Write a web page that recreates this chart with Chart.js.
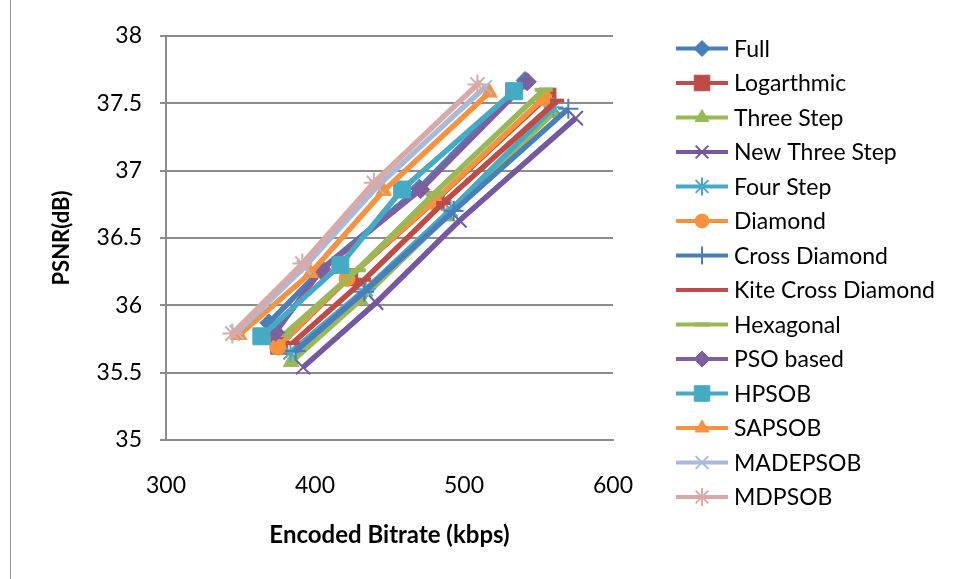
<!DOCTYPE html>
<html>
<head>
<meta charset="utf-8">
<script src="https://cdn.jsdelivr.net/npm/chart.js@4/dist/chart.umd.min.js"></script>
<style>
  html, body { margin: 0; padding: 0; background: #ffffff; }
  #wrap { position: relative; width: 958px; height: 579px; overflow: hidden; }
  #frame { position: absolute; left: 10px; top: -2px; width: 960px; height: 590px; border-left: 1px solid #9a9a9a; box-sizing: border-box; }
  canvas { position: absolute; left: 0; top: 0; }
</style>
</head>
<body>
<div id="wrap">
  <div id="frame"></div>
  <canvas id="c" width="958" height="579"></canvas>
</div>
<script>
// Rate-distortion results: encoded bitrate (kbps) vs PSNR (dB) per search method
const seriesNames = ['Full', 'Logarthmic', 'Three Step', 'New Three Step', 'Four Step', 'Diamond',
  'Cross Diamond', 'Kite Cross Diamond', 'Hexagonal', 'PSO based', 'HPSOB', 'SAPSOB', 'MADEPSOB', 'MDPSOB'];

const rateFull = [369, 404.5, 470, 541];
const psnrFull = [35.87, 36.27, 36.87, 37.67];
const rateLog = [376, 423, 481, 556];
const psnrLog = [35.70, 36.21, 36.78, 37.55];
const rateThree = [384, 430.5, 488.5, 560];
const psnrThree = [35.58, 36.04, 36.66, 37.43];
const rateNewThree = [392, 441, 497, 575];
const psnrNewThree = [35.54, 36.02, 36.63, 37.39];
const rateFour = [383.5, 434, 491, 560];
const psnrFour = [35.65, 36.12, 36.71, 37.47];
const rateDiamond = [375, 421.5, 479.5, 553.5];
const psnrDiamond = [35.69, 36.20, 36.77, 37.54];
const rateCross = [387, 433, 493, 570];
const psnrCross = [35.66, 36.10, 36.70, 37.46];
const rateKite = [385, 433, 486, 562.5];
const psnrKite = [35.72, 36.19, 36.76, 37.52];
const rateHex = [379, 428, 480, 553.5];
const psnrHex = [35.78, 36.26, 36.83, 37.60];
const ratePso = [373.5, 404, 471, 542.5];
const psnrPso = [35.80, 36.26, 36.86, 37.66];
const rateHpsob = [364, 417, 458.5, 533.5];
const psnrHpsob = [35.77, 36.30, 36.86, 37.59];
const rateSapsob = [349, 397, 446, 517];
const psnrSapsob = [35.78, 36.24, 36.85, 37.58];
const rateMadepsob = [347.5, 392.5, 441.5, 514];
const psnrMadepsob = [35.80, 36.28, 36.88, 37.62];
const rateMdpsob = [344.5, 391.5, 439.5, 509];
const psnrMdpsob = [35.79, 36.31, 36.91, 37.64];

const xTicks = [300, 400, 500, 600];
const yTicks = [35, 35.5, 36, 36.5, 37, 37.5, 38];

const rates = [rateFull, rateLog, rateThree, rateNewThree, rateFour, rateDiamond, rateCross,
  rateKite, rateHex, ratePso, rateHpsob, rateSapsob, rateMadepsob, rateMdpsob];
const psnrs = [psnrFull, psnrLog, psnrThree, psnrNewThree, psnrFour, psnrDiamond, psnrCross,
  psnrKite, psnrHex, psnrPso, psnrHpsob, psnrSapsob, psnrMadepsob, psnrMdpsob];

// line colour, marker shape, marker radius, marker outline width
const styles = [
  ['#4A7EBB', 'rectRot', 9, 1],
  ['#BE4B48', 'rect', 12, 1],
  ['#98B954', 'triangle', 9, 1],
  ['#7558A0', 'crossRot', 10, 2],
  ['#46AAC5', 'star', 10, 2],
  ['#F69240', 'circle', 8, 1],
  ['#4A7EBB', 'cross', 10, 2],
  ['#BE4B48', 'line', 7, 4],
  ['#98B954', 'line', 9, 4],
  ['#7D60A0', 'rectRot', 9, 1],
  ['#46AAC5', 'rect', 12, 1],
  ['#F69240', 'triangle', 9, 1],
  ['#A9BAD8', 'crossRot', 10, 2],
  ['#D9A9A8', 'star', 10, 2]
];

const FONT = 'Lato, "Liberation Sans", sans-serif';

const datasets = seriesNames.map((name, i) => {
  const [color, shape, r, bw] = styles[i];
  return {
    label: name,
    data: rates[i].map((x, k) => ({ x: x, y: psnrs[i][k] })),
    showLine: true,
    borderColor: color,
    backgroundColor: color,
    borderWidth: 5.5,
    pointStyle: shape,
    pointRadius: r,
    pointHoverRadius: r,
    pointBackgroundColor: color,
    pointBorderColor: color,
    pointBorderWidth: bw,
    order: seriesNames.length - 1 - i
  };
});

// Legend on the right: short line with the series marker, then the name
const sideLegend = {
  id: 'sideLegend',
  afterDraw(chart) {
    const ctx = chart.ctx;
    const x0 = 676, x1 = 728, xm = 702, xt = 734, y0 = 48.5, step = 34.5;
    ctx.save();
    chart.data.datasets.forEach((ds, i) => {
      const y = y0 + i * step;
      ctx.strokeStyle = ds.borderColor;
      ctx.lineWidth = 4;
      ctx.beginPath();
      ctx.moveTo(x0, y);
      ctx.lineTo(x1, y);
      ctx.stroke();
      if (Chart.helpers && Chart.helpers.drawPoint) {
        ctx.fillStyle = ds.pointBackgroundColor;
        ctx.strokeStyle = ds.pointBorderColor;
        ctx.lineWidth = ds.pointBorderWidth;
        Chart.helpers.drawPoint(ctx, {
          pointStyle: ds.pointStyle,
          radius: ds.pointRadius - 1,
          borderWidth: ds.pointBorderWidth,
          rotation: 0
        }, xm, y);
      }
      ctx.fillStyle = '#000000';
      ctx.font = '23px ' + FONT;
      ctx.textBaseline = 'middle';
      ctx.textAlign = 'left';
      ctx.fillText(ds.label, xt, y + 1);
    });
    ctx.restore();
  }
};

new Chart(document.getElementById('c'), {
  type: 'scatter',
  data: { datasets: datasets },
  options: {
    responsive: false,
    animation: false,
    events: [],
    layout: { padding: { left: 0, top: 36, right: 345, bottom: 0 } },
    plugins: { legend: { display: false }, tooltip: { enabled: false } },
    scales: {
      x: {
        type: 'linear',
        min: 300,
        max: 600,
        afterBuildTicks(scale) { scale.ticks = xTicks.map(v => ({ value: v })); },
        afterFit(scale) { scale.height = 139; },
        grid: { display: false, drawTicks: false },
        border: { display: true, color: '#8c8c8c', width: 2 },
        ticks: { color: '#000000', font: { family: FONT, size: 23 }, padding: 32, maxRotation: 0 },
        title: {
          display: true,
          text: 'Encoded Bitrate (kbps)',
          color: '#000000',
          font: { family: FONT, size: 24, weight: 'bold' },
          padding: { top: 0, bottom: 29 }
        }
      },
      y: {
        type: 'linear',
        min: 35,
        max: 38,
        afterBuildTicks(scale) { scale.ticks = yTicks.map(v => ({ value: v })); },
        afterFit(scale) { scale.width = 166; },
        grid: { color: '#8c8c8c', lineWidth: 2, tickLength: 6, drawTicks: true },
        border: { display: true, color: '#8c8c8c', width: 2 },
        ticks: {
          color: '#000000',
          font: { family: FONT, size: 23 },
          padding: 18,
          callback: (v) => String(v)
        },
        title: {
          display: true,
          text: 'PSNR(dB)',
          color: '#000000',
          font: { family: FONT, size: 22, weight: 'bold' },
          padding: { top: 49, bottom: 0 }
        }
      }
    }
  },
  plugins: [sideLegend]
});
</script>
</body>
</html>
